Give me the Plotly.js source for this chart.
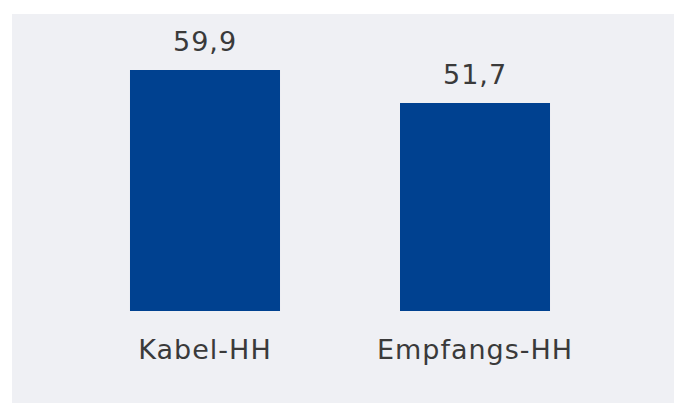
<!DOCTYPE html>
<html>
<head>
<meta charset="utf-8">
<script src="https://cdn.plot.ly/plotly-3.0.1.min.js"></script>
<style>
html, body { margin: 0; padding: 0; background: #ffffff; }
#chart { width: 674px; height: 403px; }
#chart text { letter-spacing: 1px; }
</style>
</head>
<body>
<div id="chart"></div>
<script>
var categories = ["Kabel-HH", "Empfangs-HH"];
var values = [59.9, 51.7];
var valueLabels = values.map(function (v) { return v.toFixed(1).replace(".", ","); });

var barColor = "#004190";
var bgColor = "#EFF0F4";
var textColor = "#3a3a3a";
var fontFamily = "DejaVu Sans, sans-serif";

var trace = {
  type: "bar",
  x: categories,
  y: values,
  width: 0.5556,
  marker: { color: barColor, line: { width: 0 } },
  hoverinfo: "none"
};

var annotations = categories.map(function (c, i) {
  return {
    x: c, y: values[i], xref: "x", yref: "y",
    text: valueLabels[i],
    showarrow: false,
    yanchor: "bottom",
    yshift: 11,
    font: { family: fontFamily, size: 27, color: textColor }
  };
});

var layout = {
  width: 674,
  height: 403,
  margin: { l: 12, r: 0, t: 14, b: 92 },
  paper_bgcolor: "#ffffff",
  plot_bgcolor: bgColor,
  showlegend: false,
  xaxis: {
    type: "category",
    range: [-0.7148, 1.737],
    showgrid: false, zeroline: false, showline: false,
    ticks: "",
    ticklabelstandoff: 20,
    tickfont: { family: fontFamily, size: 27, color: textColor },
    fixedrange: true
  },
  yaxis: {
    range: [0, 73.8],
    showgrid: false, zeroline: false, showline: false,
    showticklabels: false, ticks: "",
    fixedrange: true
  },
  shapes: [{
    type: "rect", xref: "paper", yref: "paper",
    x0: 0, x1: 1, y0: -0.32, y1: 1,
    fillcolor: bgColor, line: { width: 0 }, layer: "below"
  }],
  annotations: annotations
};

Plotly.newPlot("chart", [trace], layout, { displayModeBar: false, staticPlot: true });
</script>
</body>
</html>
